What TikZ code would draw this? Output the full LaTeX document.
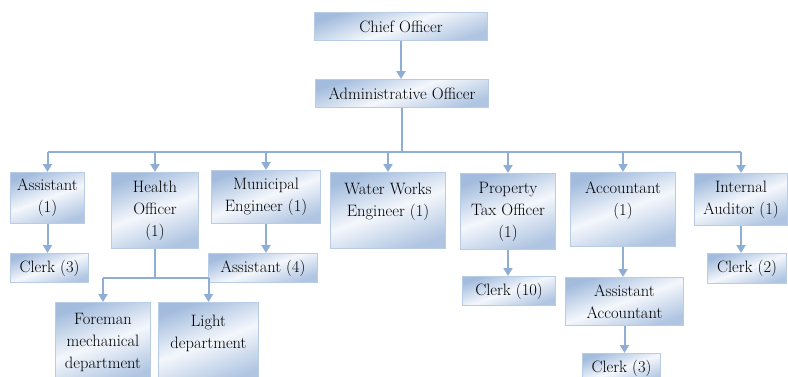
\documentclass[tikz,border=0pt]{standalone}
\usepackage{fontspec}
\usepackage{tikz}
\usetikzlibrary{arrows.meta,positioning}
\definecolor{boxdark}{HTML}{A3BCDD}
\definecolor{boxlight}{HTML}{F4F7FC}
\definecolor{boxline}{HTML}{B9CCE6}
\definecolor{wire}{HTML}{8FAED6}

\begin{document}
\begin{tikzpicture}[x=1pt, y=-1pt,
    post/.style={rectangle, draw=boxline, line width=1pt, top color=boxdark,
      bottom color=boxdark!85!boxlight, middle color=boxlight, shading angle=20,
      anchor=north west, align=center, inner sep=0pt,
      font=\fontsize{16.5}{22}\selectfont},
    wire/.style={draw=wire, line width=2pt},
    link/.style={wire, -{Triangle[width=9pt,length=8pt]}}]
        \useasboundingbox (0,0) rectangle (788,376);
        \clip (0,0) rectangle (788,376);
        % top of the chart
        \node [post, minimum width=173pt, minimum height=28pt] (chief) at (314,12) {Chief Officer};
        \node [post, minimum width=173pt, minimum height=28pt] (admin) at (315,79) {Administrative Officer};
        % first row
        \node [post, minimum width=74pt, minimum height=51pt] (asst) at (10,172) {Assistant\\(1)};
        \node [post, minimum width=87pt, minimum height=76pt] (health) at (111,172) {Health\\Officer\\(1)};
        \node [post, minimum width=109pt, minimum height=53pt] (munic) at (211,170) {Municipal\\Engineer (1)};
        \node [post, minimum width=115pt, minimum height=76pt] (water) at (330,172) {Water Works\\Engineer (1)\\~};
        \node [post, minimum width=95pt, minimum height=76pt] (prop) at (460,173) {Property\\Tax Officer\\(1)};
        \node [post, minimum width=105pt, minimum height=74pt] (acct) at (570,172) {Accountant\\(1)\\~};
        \node [post, minimum width=93pt, minimum height=52pt] (audit) at (694,173) {Internal\\Auditor (1)};
        % lower rows
        \node [post, minimum width=78pt, minimum height=29pt] (clerka) at (10,253) {Clerk (3)};
        \node [post, minimum width=109pt, minimum height=29pt] (asstb) at (208,253) {Assistant (4)};
        \node [post, minimum width=95pt, minimum height=80pt] (foreman) at (55,302) {Foreman\\mechanical\\department};
        \node [post, minimum width=100pt, minimum height=80pt] (light) at (158,302) {Light\\department\\~};
        \node [post, minimum width=93pt, minimum height=29pt] (clerkp) at (462,276) {Clerk (10)};
        \node [post, minimum width=118pt, minimum height=48pt] (asstacct) at (565,277) {Assistant\\Accountant};
        \node [post, minimum width=78pt, minimum height=30pt] (clerkc) at (582,353) {Clerk (3)};
        \node [post, minimum width=79pt, minimum height=30pt] (clerki) at (707,253) {Clerk (2)};
        \coordinate (bus) at (0,152);
        \coordinate (fork) at (0,278);
        % connectors
        \draw[link] (chief.south) -- (chief.south |- admin.north);
        \draw[wire] (admin.south) -- (admin.south |- bus);
        \draw[wire] (asst.north |- bus) -- (audit.north |- bus);
        \foreach \n in {asst,health,munic,water,prop,acct,audit}
            \draw[link] (\n.north |- bus) -- (\n.north);
        \draw[link] (asst.south) -- (asst.south |- clerka.north);
        \draw[link] (munic.south) -- (munic.south |- asstb.north);
        \draw[wire] (health.south) -- (health.south |- fork);
        \draw[wire] (foreman.north |- fork) -- (light.north |- fork);
        \draw[link] (foreman.north |- fork) -- (foreman.north);
        \draw[link] (light.north |- fork) -- (light.north);
        \draw[link] (prop.south) -- (prop.south |- clerkp.north);
        \draw[link] (acct.south) -- (acct.south |- asstacct.north);
        \draw[link] (asstacct.south) -- (asstacct.south |- clerkc.north);
        \draw[link] (audit.south) -- (audit.south |- clerki.north);
    \end{tikzpicture}
\end{document}
